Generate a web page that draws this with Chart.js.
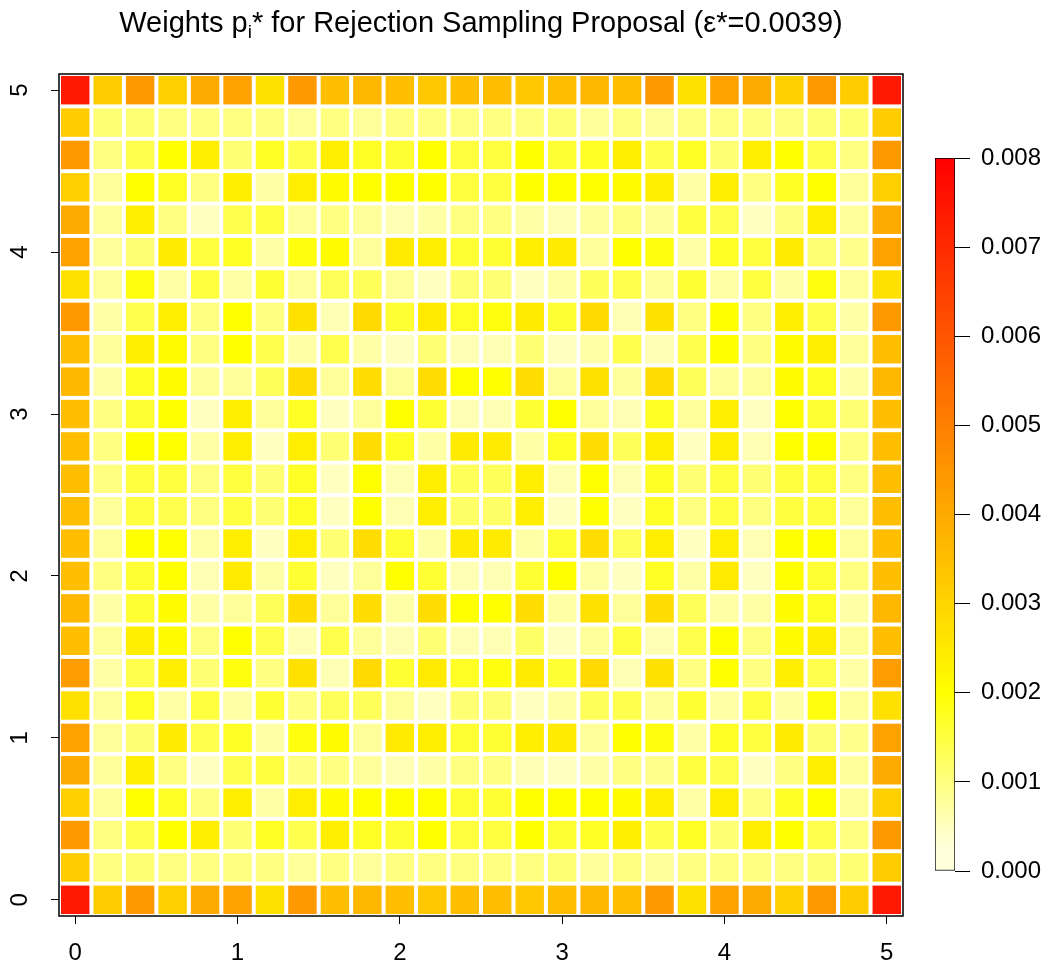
<!DOCTYPE html>
<html>
<head>
<meta charset="utf-8">
<script src="https://cdn.jsdelivr.net/npm/chart.js@4/dist/chart.umd.min.js"></script>
<style>
  body { margin: 0; background: #fff; }
  #wrap { position: relative; width: 1050px; height: 975px; }
  #title {
    position: absolute; left: 59px; width: 844px; top: 6px;
    text-align: center; font-family: "Liberation Sans", Arial, sans-serif;
    font-size: 29px; color: #000; white-space: nowrap;
  }
  #title sub { font-size: 19px; vertical-align: -6px; line-height: 0; }
  #main { position: absolute; left: 0; top: 0; width: 1050px; height: 975px; }
  #bar  { position: absolute; left: 900px; top: 100px; width: 150px; height: 820px; }
</style>
</head>
<body>
<div id="wrap">
  <div id="main"><canvas id="heatChart"></canvas></div>
  <div id="bar"><canvas id="barChart"></canvas></div>
  <div id="title">Weights p<sub>i</sub>* for Rejection Sampling Proposal (ε*=0.0039)</div>
</div>
<script>
/* ══════════════════════════════
   DATA  (weights in units of 1e-4)
══════════════════════════════ */
const gridPoints = [0, 0.2, 0.4, 0.6, 0.8, 1, 1.2, 1.4, 1.6, 1.8, 2, 2.2, 2.4,
                    2.6, 2.8, 3, 3.2, 3.4, 3.6, 3.8, 4, 4.2, 4.4, 4.6, 4.8, 5];
const xTickValues = [0, 1, 2, 3, 4, 5];
const yTickValues = [0, 1, 2, 3, 4, 5];
const legendTicks = [0, 0.001, 0.002, 0.003, 0.004, 0.005, 0.006, 0.007, 0.008];
const valueMax = 0.008;
const unit = 1e-4;

// one array per grid row, y = 0 first
const row00 = [74, 32, 44, 31, 40, 42, 27, 44, 35, 37, 35, 33, 35, 35, 33, 35, 37, 35, 44, 27, 42, 40, 31, 44, 32, 74];
const row01 = [32, 10, 11, 10, 10, 10, 10, 8, 10, 8, 10, 10, 10, 10, 10, 11, 8, 10, 8, 10, 10, 10, 10, 11, 11, 32];
const row02 = [44, 10, 14, 20, 24, 11, 17, 14, 24, 17, 16, 20, 15, 15, 20, 16, 17, 24, 14, 17, 11, 24, 20, 14, 10, 44];
const row03 = [31, 8, 20, 17, 10, 24, 7, 24, 21, 20, 20, 20, 16, 16, 20, 20, 20, 21, 24, 7, 24, 10, 17, 20, 8, 31];
const row04 = [40, 8, 24, 10, 5, 14, 15, 10, 10, 8, 6, 7, 10, 10, 6, 5, 7, 10, 9, 15, 14, 5, 10, 24, 8, 40];
const row05 = [42, 8, 11, 25, 14, 17, 7, 19, 21, 8, 25, 24, 16, 16, 24, 25, 8, 20, 19, 7, 17, 15, 25, 11, 9, 42];
const row06 = [27, 8, 17, 7, 15, 7, 16, 10, 13, 13, 8, 5, 11, 11, 5, 7, 13, 14, 8, 16, 7, 15, 7, 19, 8, 27];
const row07 = [43, 7, 14, 24, 11, 19, 10, 27, 6, 29, 16, 25, 17, 19, 25, 16, 29, 6, 27, 10, 20, 10, 24, 14, 7, 43];
const row08 = [35, 8, 24, 21, 10, 20, 14, 6, 14, 8, 6, 11, 6, 6, 12, 5, 8, 15, 6, 14, 20, 10, 21, 24, 8, 35];
const row09 = [37, 7, 16, 21, 7, 8, 13, 28, 8, 28, 7, 28, 20, 20, 28, 7, 27, 8, 28, 13, 7, 7, 21, 17, 7, 37];
const row10 = [35, 10, 16, 20, 6, 25, 7, 16, 5, 8, 20, 16, 6, 6, 16, 20, 7, 5, 17, 7, 25, 5, 20, 16, 10, 35];
const row11 = [35, 8, 20, 20, 7, 24, 5, 24, 11, 28, 16, 7, 25, 25, 7, 16, 28, 13, 24, 5, 24, 6, 20, 20, 8, 35];
const row12 = [35, 8, 15, 14, 10, 15, 11, 17, 5, 20, 6, 24, 12, 12, 24, 5, 20, 5, 17, 10, 15, 10, 15, 15, 8, 35];
const row13 = [35, 10, 15, 15, 10, 15, 11, 17, 5, 20, 6, 24, 13, 13, 24, 6, 20, 6, 17, 11, 15, 11, 15, 15, 10, 35];
const row14 = [35, 10, 20, 20, 7, 24, 5, 24, 11, 28, 17, 7, 25, 25, 7, 17, 28, 13, 24, 5, 24, 6, 20, 20, 10, 35];
const row15 = [35, 10, 16, 20, 5, 24, 8, 17, 5, 8, 20, 16, 6, 6, 16, 20, 8, 6, 17, 8, 24, 5, 20, 16, 11, 35];
const row16 = [37, 7, 17, 21, 8, 8, 13, 28, 8, 28, 8, 28, 20, 20, 28, 8, 27, 8, 28, 13, 8, 8, 21, 17, 7, 37];
const row17 = [35, 8, 24, 21, 10, 20, 14, 7, 14, 7, 5, 11, 6, 6, 11, 5, 7, 14, 6, 14, 20, 10, 21, 24, 8, 35];
const row18 = [44, 7, 14, 24, 10, 20, 10, 27, 6, 29, 16, 25, 17, 19, 25, 16, 29, 6, 27, 10, 20, 10, 24, 14, 7, 44];
const row19 = [27, 8, 19, 7, 15, 7, 16, 8, 13, 13, 8, 5, 11, 11, 5, 7, 13, 14, 8, 16, 7, 15, 7, 19, 8, 27];
const row20 = [42, 8, 11, 25, 15, 17, 7, 19, 21, 8, 25, 24, 16, 16, 24, 25, 8, 20, 19, 7, 17, 15, 25, 11, 9, 42];
const row21 = [40, 8, 24, 10, 5, 14, 15, 8, 10, 8, 6, 7, 10, 10, 7, 6, 8, 10, 8, 15, 14, 5, 10, 24, 8, 40];
const row22 = [31, 8, 20, 17, 10, 24, 7, 24, 21, 20, 20, 20, 15, 15, 20, 20, 20, 21, 24, 7, 24, 10, 17, 20, 8, 31];
const row23 = [44, 10, 14, 20, 24, 11, 17, 14, 24, 17, 16, 20, 15, 15, 20, 16, 17, 24, 14, 17, 11, 24, 20, 14, 10, 44];
const row24 = [32, 11, 11, 10, 10, 10, 10, 8, 10, 8, 10, 10, 10, 10, 10, 11, 8, 10, 8, 10, 10, 10, 10, 11, 11, 32];
const row25 = [74, 32, 44, 31, 40, 42, 27, 44, 35, 37, 35, 33, 35, 35, 33, 35, 37, 35, 44, 27, 42, 40, 31, 44, 32, 74];

const gridRows = [row00, row01, row02, row03, row04, row05, row06, row07, row08, row09, row10, row11, row12,
                  row13, row14, row15, row16, row17, row18, row19, row20, row21, row22, row23, row24, row25];

/* ══════════════════════════════
   COLOUR SCALE (reversed heat colours)
══════════════════════════════ */
function heatColor(v) {
  const t = Math.min(Math.max(v / valueMax, 0), 1);
  if (t < 0.25) {
    const s = Math.max(t / 0.25, 0.14);
    return `rgb(255,255,${Math.round(255 * (1 - s))})`;
  }
  const hue = 60 * (1 - (t - 0.25) / 0.75);
  return `rgb(255,${Math.round(255 * hue / 60)},0)`;
}

const FONT = 'Liberation Sans, Arial, sans-serif';

const cells = [];
gridRows.forEach((row, r) => {
  row.forEach((w, c) => {
    cells.push({ x: gridPoints[c], y: gridPoints[r], v: w * unit });
  });
});

// square size follows the x scale: one grid step minus the white gap
function cellRadius(ctx) {
  const xs = ctx.chart.scales.x;
  if (!xs) return 10;
  const step = Math.abs(xs.getPixelForValue(gridPoints[1]) - xs.getPixelForValue(gridPoints[0]));
  return (step - 4) / Math.SQRT2;
}

const framePlugin = {
  id: 'frame',
  afterDatasetsDraw(chart) {
    const { ctx, chartArea: a } = chart;
    ctx.save();
    ctx.strokeStyle = '#000';
    ctx.lineWidth = 1.5;
    ctx.strokeRect(a.left, a.top, a.right - a.left, a.bottom - a.top);
    ctx.restore();
  }
};

/* ══════════════════════════════
   HEATMAP
══════════════════════════════ */
new Chart(document.getElementById('heatChart'), {
  type: 'scatter',
  data: {
    datasets: [{
      data: cells,
      pointStyle: 'rect',
      pointRadius: cellRadius,
      pointHoverRadius: cellRadius,
      pointBorderWidth: 0,
      backgroundColor: ctx => heatColor(ctx.raw ? ctx.raw.v : 0)
    }]
  },
  options: {
    responsive: true,
    maintainAspectRatio: false,
    animation: false,
    events: [],
    layout: { padding: { left: 0, right: 147, top: 74, bottom: 0 } },
    plugins: { legend: { display: false }, tooltip: { enabled: false } },
    scales: {
      x: {
        type: 'linear',
        min: -0.1,
        max: 5.1,
        afterBuildTicks: axis => { axis.ticks = xTickValues.map(v => ({ value: v })); },
        afterFit: s => { s.height = 59; },
        border: { display: false },
        grid: { drawOnChartArea: false, tickLength: 8, color: '#000' },
        ticks: { font: { family: FONT, size: 24 }, color: '#000', padding: 15, maxRotation: 0 }
      },
      y: {
        type: 'linear',
        min: -0.1,
        max: 5.1,
        afterBuildTicks: axis => { axis.ticks = yTickValues.map(v => ({ value: v })); },
        afterFit: s => { s.width = 59; },
        border: { display: false },
        grid: { drawOnChartArea: false, tickLength: 8, color: '#000' },
        ticks: {
          font: { family: FONT, size: 24 }, color: '#000',
          minRotation: 90, maxRotation: 90, crossAlign: 'center', padding: 24
        }
      }
    }
  },
  plugins: [framePlugin]
});

/* ══════════════════════════════
   COLOUR BAR
══════════════════════════════ */
new Chart(document.getElementById('barChart'), {
  type: 'bar',
  data: {
    labels: ['scale'],
    datasets: [{
      data: [[legendTicks[0], legendTicks[legendTicks.length - 1]]],
      backgroundColor: ctx => {
        const chart = ctx.chart;
        if (!chart.chartArea) return '#fff';
        const ys = chart.scales.y;
        const g = chart.ctx.createLinearGradient(0, ys.getPixelForValue(0), 0, ys.getPixelForValue(valueMax));
        for (let i = 0; i <= 64; i++) g.addColorStop(i / 64, heatColor(valueMax * i / 64));
        return g;
      },
      borderColor: '#000',
      borderWidth: 1,
      borderSkipped: false,
      barPercentage: 1,
      categoryPercentage: 1
    }]
  },
  options: {
    responsive: true,
    maintainAspectRatio: false,
    animation: false,
    events: [],
    layout: { padding: { left: 35, right: 0, top: 58, bottom: 49 } },
    plugins: { legend: { display: false }, tooltip: { enabled: false } },
    scales: {
      x: { display: false },
      y: {
        position: 'right',
        min: 0,
        max: valueMax,
        afterBuildTicks: axis => { axis.ticks = legendTicks.map(v => ({ value: v })); },
        afterFit: s => { s.width = 95; },
        border: { display: false },
        grid: { drawOnChartArea: false, tickLength: 15, color: '#000' },
        ticks: {
          font: { family: FONT, size: 24 }, color: '#000', padding: 11,
          callback: v => Number(v).toFixed(3)
        }
      }
    }
  }
});
</script>
</body>
</html>
